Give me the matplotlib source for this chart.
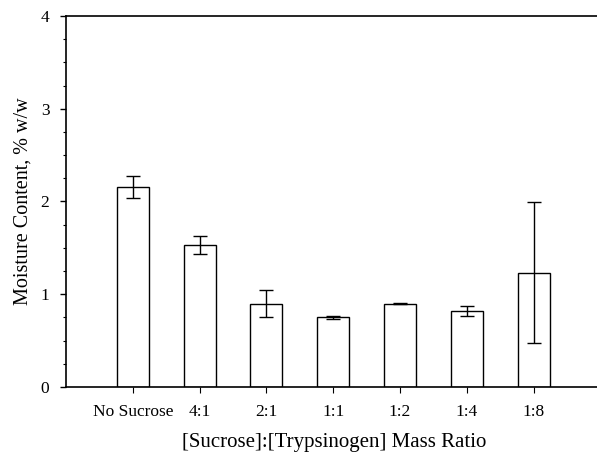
import matplotlib
matplotlib.use("Agg")
import matplotlib.pyplot as plt
from matplotlib.ticker import MultipleLocator

categories = ["No Sucrose", "4:1", "2:1", "1:1", "1:2", "1:4", "1:8"]
moisture = [2.16, 1.53, 0.90, 0.75, 0.90, 0.82, 1.23]
errors = [0.12, 0.10, 0.15, 0.012, 0.006, 0.05, 0.76]

plt.rcParams['font.family'] = ['Liberation Serif', 'DejaVu Serif']

fig = plt.figure(figsize=(5.97, 4.54), dpi=100)
ax = fig.add_axes([0.1106, 0.1476, 0.8894, 0.8172])

x = list(range(1, len(categories) + 1))
ax.bar(x, moisture, width=0.48, color='white', edgecolor='black', linewidth=1.0,
       yerr=errors, capsize=5, error_kw=dict(elinewidth=1.0, capthick=1.0, ecolor='black'))

ax.set_xlim(0, 7.95)
ax.set_ylim(0, 4)
ax.set_xticks(x)
ax.set_xticklabels(categories, fontsize=12.5)
ax.set_yticks([0, 1, 2, 3, 4])
ax.yaxis.set_minor_locator(MultipleLocator(0.25))
ax.tick_params(axis='y', which='major', direction='out', length=4, width=1, labelsize=12.5, pad=8)
ax.tick_params(axis='y', which='minor', direction='out', length=2.5, width=0.8)
ax.tick_params(axis='x', which='major', direction='out', length=4, width=0.8, pad=8)

ax.spines['right'].set_visible(False)
for s in ['top', 'left', 'bottom']:
    ax.spines[s].set_linewidth(1.2)

ax.set_ylabel("Moisture Content, % w/w", fontsize=14.5, labelpad=6)
ax.set_xlabel("[Sucrose]:[Trypsinogen] Mass Ratio", fontsize=15, labelpad=8)
ax.xaxis.set_label_coords(0.505, -0.125)

fig.savefig("out.png", dpi=100)
